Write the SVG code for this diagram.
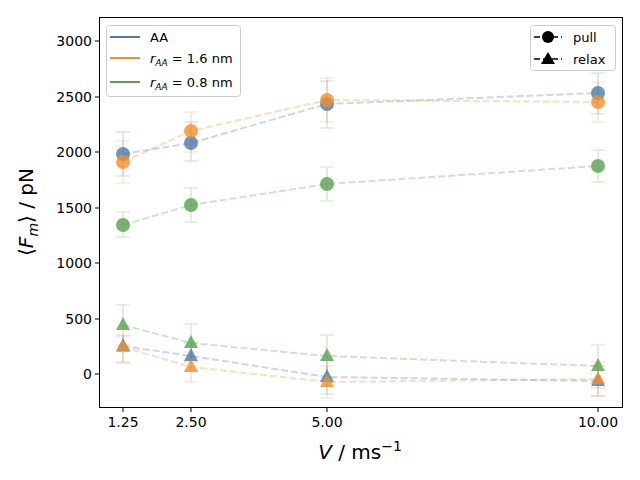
<svg xmlns="http://www.w3.org/2000/svg" width="640" height="480" viewBox="0 0 640 480">
<style>
text{font-family:"DejaVu Sans",sans-serif;fill:#000}
.t{font-size:14px}
.ln{fill:none;stroke-width:2;stroke-dasharray:7,3;opacity:0.3}
.eb{stroke-width:1.2;opacity:0.3;fill:none}
.b{stroke:#4e79a7}.o{stroke:#f28e2b}.g{stroke:#59a14f}
.fb{fill:#4e79a7;opacity:0.8}.fo{fill:#f28e2b;opacity:0.8}.fg{fill:#59a14f;opacity:0.8}
</style>
<defs>
<path id="tri" d="M0,-8 L7,5 L-7,5 Z"/>
</defs>
<rect width="640" height="480" fill="#fff"/>
<g id="connectors">
<polyline class="ln b" points="123,154 191,143 327,104 598,93"/>
<polyline class="ln o" points="123,162 191,131 327,100 598,102"/>
<polyline class="ln g" points="123,225 191,205 327,184 598,166"/>
<polyline class="ln b" points="123,346 191,356 327,377 598,381"/>
<polyline class="ln o" points="123,347 191,367 327,382 598,379"/>
<polyline class="ln g" points="123,325 191,343 327,356 598,366"/>
<path class="eb b" d="M123,132V176M116,132H130M116,176H130M191,122V161M184,122H198M184,161H198M327,81V128M320,81H334M320,128H334M598,73V114M591,73H605M591,114H605"/>
<path class="eb o" d="M123,141V183M116,141H130M116,183H130M191,112V152M184,112H198M184,152H198M327,78V122M320,78H334M320,122H334M598,82V122M591,82H605M591,122H605"/>
<path class="eb g" d="M123,212V237M116,212H130M116,237H130M191,188V222M184,188H198M184,222H198M327,167V201M320,167H334M320,201H334M598,150V182M591,150H605M591,182H605"/>
<path class="eb b" d="M123,336V363M116,336H130M116,363H130M191,343V370M184,343H198M184,370H198M327,360V394M320,360H334M320,394H334M598,366V396M591,366H605M591,396H605"/>
<path class="eb o" d="M123,335V362M116,335H130M116,362H130M191,352V382M184,352H198M184,382H198M327,366V398M320,366H334M320,398H334M598,362V396M591,362H605M591,396H605"/>
<path class="eb g" d="M123,305V345M116,305H130M116,345H130M191,324V362M184,324H198M184,362H198M327,335V378M320,335H334M320,378H334M598,345V388M591,345H605M591,388H605"/>
</g>
<g id="markers">
<circle class="fb" cx="123" cy="154" r="7"/><circle class="fb" cx="191" cy="143" r="7"/><circle class="fb" cx="327" cy="104" r="7"/><circle class="fb" cx="598" cy="93" r="7"/>
<circle class="fo" cx="123" cy="162" r="7"/><circle class="fo" cx="191" cy="131" r="7"/><circle class="fo" cx="327" cy="100" r="7"/><circle class="fo" cx="598" cy="102" r="7"/>
<circle class="fg" cx="123" cy="225" r="7"/><circle class="fg" cx="191" cy="205" r="7"/><circle class="fg" cx="327" cy="184" r="7"/><circle class="fg" cx="598" cy="166" r="7"/>
<use href="#tri" class="fg" x="123" y="325"/><use href="#tri" class="fg" x="191" y="343"/><use href="#tri" class="fg" x="327" y="356"/><use href="#tri" class="fg" x="598" y="366"/>
<use href="#tri" class="fb" x="123" y="346"/><use href="#tri" class="fb" x="191" y="356"/><use href="#tri" class="fb" x="327" y="377"/><use href="#tri" class="fb" x="598" y="381"/>
<use href="#tri" class="fo" x="123" y="347"/><use href="#tri" class="fo" x="191" y="367"/><use href="#tri" class="fo" x="327" y="382"/><use href="#tri" class="fo" x="598" y="379"/>
</g>
<g id="axes" stroke="#000" stroke-width="1" fill="none">
<rect x="99.5" y="17.5" width="523" height="390"/>
<path d="M123,408v4M191,408v4M327,408v4M598,408v4M99,374h-4M99,319h-4M99,263h-4M99,208h-4M99,152h-4M99,97h-4M99,41h-4"/>
</g>
<g id="ticklabels" class="t">
<g text-anchor="middle"><text x="123" y="427" class="t">1.25</text><text x="191" y="427" class="t">2.50</text><text x="327" y="427" class="t">5.00</text><text x="598" y="427" class="t">10.00</text></g>
<g text-anchor="end"><text x="92" y="379" class="t">0</text><text x="92" y="324" class="t">500</text><text x="92" y="268" class="t">1000</text><text x="92" y="213" class="t">1500</text><text x="92" y="157" class="t">2000</text><text x="92" y="102" class="t">2500</text><text x="92" y="46" class="t">3000</text></g>
</g>
<text x="360" y="459" text-anchor="middle" font-size="20"><tspan font-style="italic">V</tspan> / ms<tspan font-size="14" dy="-8">−1</tspan></text>
<text transform="translate(33,212) rotate(-90)" text-anchor="middle" font-size="20">⟨<tspan font-style="italic">F</tspan><tspan font-size="14" font-style="italic" dy="5">m</tspan><tspan dy="-5">⟩ / pN</tspan></text>
<g id="legend1">
<rect x="106.5" y="25.5" width="134" height="71" rx="3" fill="#fff" fill-opacity="0.8" stroke="#ccc"/>
<line x1="110" y1="37" x2="140" y2="37" stroke="#4e79a7" stroke-width="2"/>
<line x1="110" y1="58" x2="140" y2="58" stroke="#f28e2b" stroke-width="2"/>
<line x1="110" y1="82" x2="140" y2="82" stroke="#59a14f" stroke-width="2"/>
<text x="150" y="42" font-size="13">AA</text>
<text x="150" y="63" font-size="13"><tspan font-style="italic">r</tspan><tspan font-size="9" font-style="italic" dy="3">AA</tspan><tspan dy="-3"> = 1.6 nm</tspan></text>
<text x="150" y="87" font-size="13"><tspan font-style="italic">r</tspan><tspan font-size="9" font-style="italic" dy="3">AA</tspan><tspan dy="-3"> = 0.8 nm</tspan></text>
</g>
<g id="legend2">
<rect x="530.5" y="25.5" width="85" height="45" rx="3" fill="#fff" fill-opacity="0.8" stroke="#ccc"/>
<line x1="534" y1="37" x2="562" y2="37" stroke="#000" stroke-width="1.5" stroke-dasharray="6,3"/>
<circle cx="548" cy="37" r="6" fill="#000"/>
<line x1="534" y1="59" x2="562" y2="59" stroke="#000" stroke-width="1.5" stroke-dasharray="6,3"/>
<path d="M548,52 L555,64 L541,64 Z" fill="#000"/>
<text x="573" y="42" font-size="13">pull</text>
<text x="573" y="64" font-size="13">relax</text>
</g>
</svg>
